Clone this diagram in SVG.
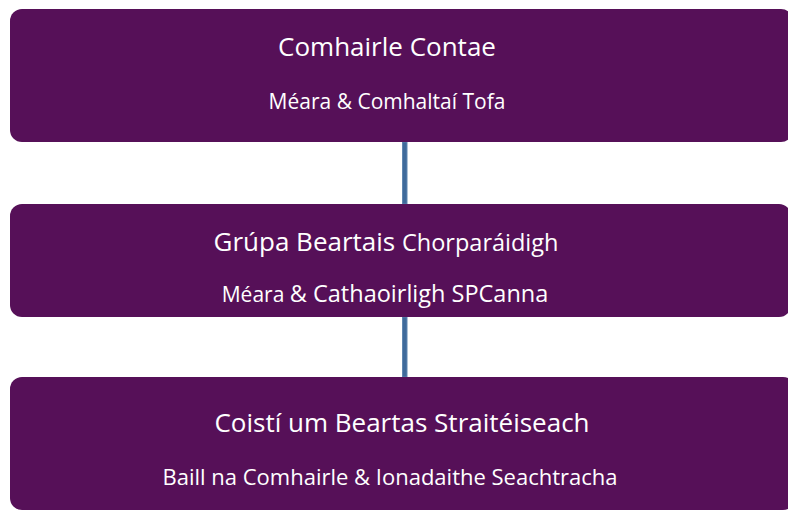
<svg xmlns="http://www.w3.org/2000/svg" width="788" height="512" viewBox="0 0 788 512">
<style>
.box{fill:#561058;}
.t{font-family:"Open Sans","Noto Sans",sans-serif;fill:#ffffff;text-anchor:middle;}
.title{font-size:26px;}
.sub{font-size:21px;}
.conn{fill:#3F6A9B;stroke:#5F86B0;stroke-width:1;}
</style>
<rect width="788" height="512" fill="#ffffff"/>
<g id="connectors">
<rect class="conn" x="402.5" y="142" width="4.5" height="62"/>
<rect class="conn" x="402.5" y="317" width="4.5" height="60"/>
</g>
<g id="node-comhairle">
<rect class="box" x="10" y="9" width="783" height="133" rx="12"/>
<text class="t title" x="387" y="56">Comhairle Contae</text>
<text class="t sub" x="387" y="109">Méara &amp; Comhaltaí Tofa</text>
</g>
<g id="node-grupa">
<rect class="box" x="10" y="204" width="781" height="113" rx="12"/>
<text class="t title" x="386" y="251">Grúpa Beartais <tspan font-size="23.5px">Chorparáidigh</tspan></text>
<text class="t sub" x="385" y="302"><tspan font-size="21px">Méara</tspan> <tspan font-size="23.5px">&amp; Cathaoirligh SPCanna</tspan></text>
</g>
<g id="node-coisti">
<rect class="box" x="10" y="377" width="785" height="133" rx="12"/>
<text class="t title" x="402" y="432">Coistí um Beartas Straitéiseach</text>
<text class="t sub" x="390" y="485" font-size="22px" style="font-size:22px">Baill na Comhairle &amp; Ionadaithe Seachtracha</text>
</g>
</svg>
